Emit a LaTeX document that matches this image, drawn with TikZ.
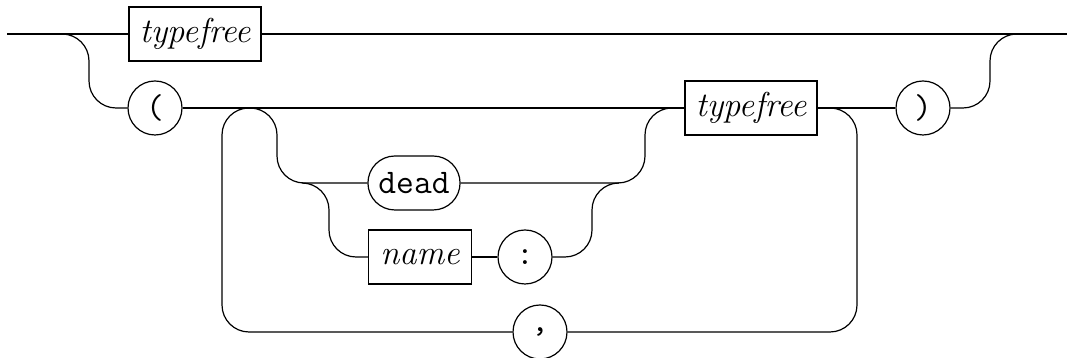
\documentclass[tikz,border=0pt]{standalone}
\tikzset{
  nonterm/.style = { draw, rectangle, minimum height=18pt, inner xsep=2pt, font=\fontsize{11.5pt}{14pt}\selectfont\itshape },
  term/.style    = { draw, rectangle, rounded corners=9pt, minimum height=18pt, minimum width=30.7pt, font=\fontsize{11.5pt}{14pt}\selectfont\ttfamily },
  symb/.style    = { draw, circle, minimum size=18pt, inner sep=0pt, font=\fontsize{11.5pt}{14pt}\selectfont\ttfamily },
  rail/.style    = { rounded corners=9pt }
}
\begin{document}
\begin{tikzpicture}[x=0.3333pt, y=-0.3333pt]
    \useasboundingbox (0,0) rectangle (1067,358);

    \node[nonterm, minimum width=44pt]   (tfA)   at (195,34)  {typefree};
    \node[symb]                          (lpar)  at (155,108) {(};
    \node[nonterm, minimum width=44pt]   (tfB)   at (751,108) {typefree};
    \node[symb]                          (rpar)  at (923,108) {)};
    \node[term]                          (dead)  at (414,183) {dead};
    \node[nonterm, minimum width=34.3pt] (name)  at (420,257) {name};
    \node[symb]                          (colon) at (525,257) {:};
    \node[symb]                          (comma) at (540,332) {,};

    \coordinate (start)   at (7,34);
    \coordinate (stop)    at (1067,34);
    \coordinate (splitL)  at (89,34);
    \coordinate (loopL)   at (222,108);
    \coordinate (optS)    at (277,108);
    \coordinate (deadIn)  at (303,183);
    \coordinate (nameS)   at (329,183);
    \coordinate (nameJ)   at (592,183);
    \coordinate (deadOut) at (618,183);
    \coordinate (optJ)    at (645,183);
    \coordinate (loopR)   at (857,108);
    \coordinate (joinR)   at (990,34);

    \draw (start) -- (tfA);
    \draw (tfA) -- (stop);

    \draw[rail] (start) -- (splitL) |- (lpar);
    \draw (lpar) -- (tfB);
    \draw (tfB) -- (rpar);
    \draw[rail] (rpar) -| (joinR) -- (stop);

    \draw[rail] (tfB) -- (loopR) |- (comma);
    \draw[rail] (comma) -| (loopL) -- (optS);

    \draw[rail] (loopL) -- (optS) |- (dead);
    \draw[rail] (deadIn) -- (nameS) |- (name);
    \draw (name) -- (colon);
    \draw[rail] (colon) -| (nameJ) -- (deadOut);
    \draw[rail] (dead) -- (optJ) |- (tfB);
\end{tikzpicture}
\end{document}
